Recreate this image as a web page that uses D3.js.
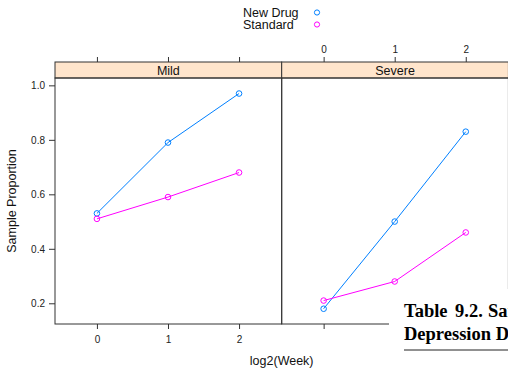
<!DOCTYPE html>
<html>
<head>
<meta charset="utf-8">
<script src="https://cdn.jsdelivr.net/npm/d3@7"></script>
<style>
  body { margin: 0; background: #fff; }
  svg { display: block; font-family: "Liberation Sans", Arial, sans-serif; }
</style>
</head>
<body>
<div id="chart"></div>
<script>
// data
const weeks = [0, 1, 2];
const panels = ["Mild", "Severe"];
const treatments = ["New Drug", "Standard"];
const colors = ["#0080ff", "#ff00ff"];
const mildNew = [0.53, 0.79, 0.97];
const mildStandard = [0.51, 0.59, 0.68];
const severeNew = [0.18, 0.50, 0.83];
const severeStandard = [0.21, 0.28, 0.46];
const yTicks = [0.2, 0.4, 0.6, 0.8, 1.0];

const values = {
    "Mild": [mildNew, mildStandard],
    "Severe": [severeNew, severeStandard]
};

const w = 508, h = 368;
const panelW = 226.7;
const panelLeft = 55, panelTop = 78, panelBottom = 324, stripH = 16;
const sans = "Liberation Sans, Arial, sans-serif";
const serif = "Liberation Serif, Times New Roman, serif";

let svg = d3.select("#chart")
    .append("svg")
    .attr("width", w)
    .attr("height", h);

const y = d3.scaleLinear()
    .domain([0.124, 1.027])
    .range([panelBottom, panelTop]);

// legend
const legend = svg.append("g");
treatments.forEach((t, i) => {
    legend.append("text")
        .attr("x", 243)
        .attr("y", 12.5 + i * 12)
        .attr("dy", "0.35em")
        .style("font-size", "12.5px")
        .style("font-family", sans)
        .attr("fill", "#111")
        .text(t);
    legend.append("circle")
        .attr("cx", 317)
        .attr("cy", 12.5 + i * 12)
        .attr("r", 2.6)
        .attr("fill", "none")
        .attr("stroke", colors[i])
        .attr("stroke-width", 1);
});

function styleAxis(a) {
    a.select(".domain").remove();
    a.selectAll("line").attr("stroke", "#333");
    a.selectAll("text")
        .attr("fill", "#222")
        .style("font-size", "10px")
        .style("font-family", sans);
}

panels.forEach((p, pi) => {
    const x0 = panelLeft + pi * panelW;
    const x = d3.scaleLinear()
        .domain([-0.59, 2.6])
        .range([x0, x0 + panelW]);

    const g = svg.append("g");

    // strip
    g.append("rect")
        .attr("x", x0)
        .attr("y", panelTop - stripH)
        .attr("width", panelW)
        .attr("height", stripH)
        .attr("fill", "#ffe5cc")
        .attr("stroke", "#333")
        .attr("stroke-width", 1);
    g.append("text")
        .attr("x", x0 + panelW / 2)
        .attr("y", panelTop - stripH / 2)
        .attr("dy", "0.36em")
        .attr("text-anchor", "middle")
        .attr("fill", "#111")
        .style("font-size", "12.5px")
        .style("font-family", sans)
        .text(p);

    // top ticks (labels only on second panel)
    g.append("g")
        .attr("transform", `translate(0,${panelTop - stripH})`)
        .call(d3.axisTop(x).tickValues(weeks).tickSize(5).tickPadding(4)
            .tickFormat(pi === 1 ? d3.format("d") : () => ""))
        .call(styleAxis);

    // bottom ticks (labels only on first panel)
    g.append("g")
        .attr("transform", `translate(0,${panelBottom})`)
        .call(d3.axisBottom(x).tickValues(weeks).tickSize(5).tickPadding(7)
            .tickFormat(pi === 0 ? d3.format("d") : () => ""))
        .call(styleAxis);

    // series
    const line = d3.line()
        .x((d, i) => x(weeks[i]))
        .y(d => y(d));

    values[p].forEach((series, si) => {
        g.append("path")
            .datum(series)
            .attr("d", line)
            .attr("fill", "none")
            .attr("stroke", colors[si])
            .attr("stroke-width", 1);
        g.selectAll(".pt" + si)
            .data(series)
            .enter()
            .append("circle")
            .attr("cx", (d, i) => x(weeks[i]))
            .attr("cy", d => y(d))
            .attr("r", 2.8)
            .attr("fill", "none")
            .attr("stroke", colors[si])
            .attr("stroke-width", 1);
    });

    // panel frame
    g.append("rect")
        .attr("x", x0)
        .attr("y", panelTop)
        .attr("width", panelW)
        .attr("height", panelBottom - panelTop)
        .attr("fill", "none")
        .attr("stroke", "#333")
        .attr("stroke-width", 1);
});

// left axis
svg.append("g")
    .attr("transform", `translate(${panelLeft},0)`)
    .call(d3.axisLeft(y).tickValues(yTicks).tickSize(6).tickPadding(4).tickFormat(d3.format(".1f")))
    .call(styleAxis);

// axis titles
svg.append("text")
    .attr("x", panelLeft + panelW)
    .attr("y", 361)
    .attr("dy", "0.35em")
    .attr("text-anchor", "middle")
    .attr("fill", "#111")
    .style("font-size", "12.5px")
    .style("font-family", sans)
    .text("log2(Week)");

svg.append("text")
    .attr("transform", `translate(12,${(panelTop + panelBottom) / 2}) rotate(-90)`)
    .attr("dy", "0.35em")
    .attr("text-anchor", "middle")
    .attr("fill", "#111")
    .style("font-size", "12.5px")
    .style("font-family", sans)
    .text("Sample Proportion");

// piece of the book page that overlaps the screenshot
const page = svg.append("g");
page.append("rect")
    .attr("x", 389)
    .attr("y", 289)
    .attr("width", w - 389)
    .attr("height", h - 289)
    .attr("fill", "#fff");
const caption = page.append("text")
    .attr("y", 317)
    .style("font-family", serif)
    .style("font-weight", "bold")
    .style("font-size", "18.5px");
caption.append("tspan").attr("x", 404).text("Table");
caption.append("tspan").attr("x", 455).text("9.2.");
caption.append("tspan").attr("x", 488).text("Sample");
page.append("text")
    .attr("x", 404)
    .attr("y", 340)
    .style("font-family", serif)
    .style("font-weight", "bold")
    .style("font-size", "18.5px")
    .text("Depression Data");
page.append("line")
    .attr("x1", 404)
    .attr("x2", w)
    .attr("y1", 350)
    .attr("y2", 350)
    .attr("stroke", "#222")
    .attr("stroke-width", 1);
</script>
</body>
</html>
